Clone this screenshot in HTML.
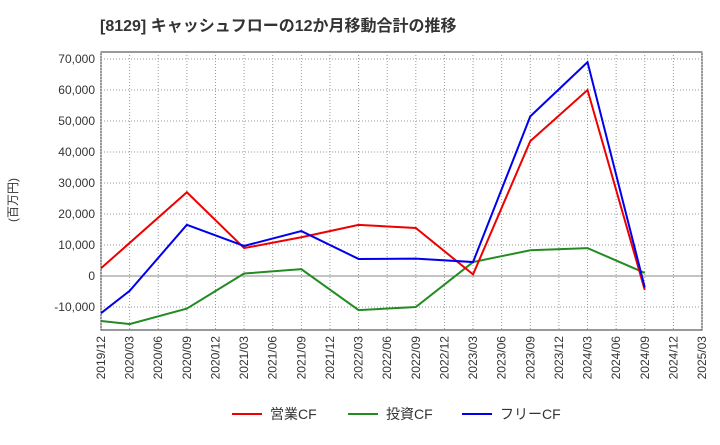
<!DOCTYPE html>
<html><head><meta charset="utf-8"><style>
body{margin:0;background:#fff;font-family:"Liberation Sans","Noto Sans CJK JP",sans-serif;}
svg text{font-family:"Liberation Sans","Noto Sans CJK JP",sans-serif;}
</style></head><body>
<svg id="c" width="720" height="440">
<text x="100" y="31" font-size="16" font-weight="bold" fill="#333">[8129]  キャッシュフローの12か月移動合計の推移</text>
<text transform="translate(17,200) rotate(-90)" font-size="12" fill="#333" text-anchor="middle">(百万円)</text>
<g id="grid"></g><g id="series"></g><g id="axes"></g>
<g>
<line x1="232" y1="414" x2="262" y2="414" stroke="#e00" stroke-width="2"/>
<text x="270" y="419" font-size="14" fill="#333">営業CF</text>
<line x1="348" y1="414" x2="378" y2="414" stroke="#228b22" stroke-width="2"/>
<text x="386" y="419" font-size="14" fill="#333">投資CF</text>
<line x1="462" y1="414" x2="492" y2="414" stroke="#00e" stroke-width="2"/>
<text x="500" y="419" font-size="14" fill="#333">フリーCF</text>
</g>
</svg>
<script>
const xLabels=["2019/12","2020/03","2020/06","2020/09","2020/12","2021/03","2021/06","2021/09","2021/12","2022/03","2022/06","2022/09","2022/12","2023/03","2023/06","2023/09","2023/12","2024/03","2024/06","2024/09","2024/12","2025/03"];
const yTicks=[-10000,0,10000,20000,30000,40000,50000,60000,70000];
const opIdx=[0,3,5,7,9,11,13,15,17,19];
const opVals=[2500,27000,9000,12500,16500,15500,500,43500,60000,-4500];
const invIdx=[0,1,3,5,7,9,11,13,15,17,19];
const invVals=[-14500,-15500,-10500,800,2200,-11000,-10000,4500,8300,9000,1000];
const freeIdx=[0,1,3,5,7,9,11,13,15,17,19];
const freeVals=[-12000,-4800,16500,9700,14500,5500,5600,4500,51500,69000,-3700];
const L=101,R=702,T=52,B=330;
const xs=i=>L+(R-L)*i/(xLabels.length-1);
const ys=v=>276-v*31/10000;
const ns="http://www.w3.org/2000/svg";
function mk(p,t,a){const e=document.createElementNS(ns,t);for(const k in a)e.setAttribute(k,a[k]);document.getElementById(p).appendChild(e);return e;}
let fr=mk('grid','rect',{x:L,y:T,width:R-L,height:B-T,fill:'none',stroke:'#333'});


xLabels.forEach((lb,i)=>{
 const g=mk('grid','line',{x1:xs(i),x2:xs(i),y1:T,y2:B,stroke:'#999','stroke-dasharray':'1,2'});
 
 
 const t=mk('axes','text',{transform:`translate(${xs(i)+4},${B+6}) rotate(-90)`,'font-size':12,fill:'#333','text-anchor':'end'});
 t.textContent=lb;
 
 
});
yTicks.forEach(v=>{
 const g=mk('grid','line',{x1:L,x2:R,y1:ys(v),y2:ys(v),stroke:v===0?'#888':'#999','stroke-dasharray':v===0?'none':'1,2'});
 
 
 const t=mk('axes','text',{x:L-6,y:ys(v)+4,'font-size':12,fill:'#333','text-anchor':'end'});
 t.textContent=v.toLocaleString('en-US');
 
 
});
function line(idx,vals,col,name){
 const p=mk('series','polyline',{points:idx.map((i,k)=>xs(i)+','+ys(vals[k])).join(' '),fill:'none',stroke:col,'stroke-width':2});
 
 
}
line(invIdx,invVals,'#228b22','investing-cf-line');
line(opIdx,opVals,'#e00','operating-cf-line');
line(freeIdx,freeVals,'#00e','free-cf-line');
</script>
</body></html>
